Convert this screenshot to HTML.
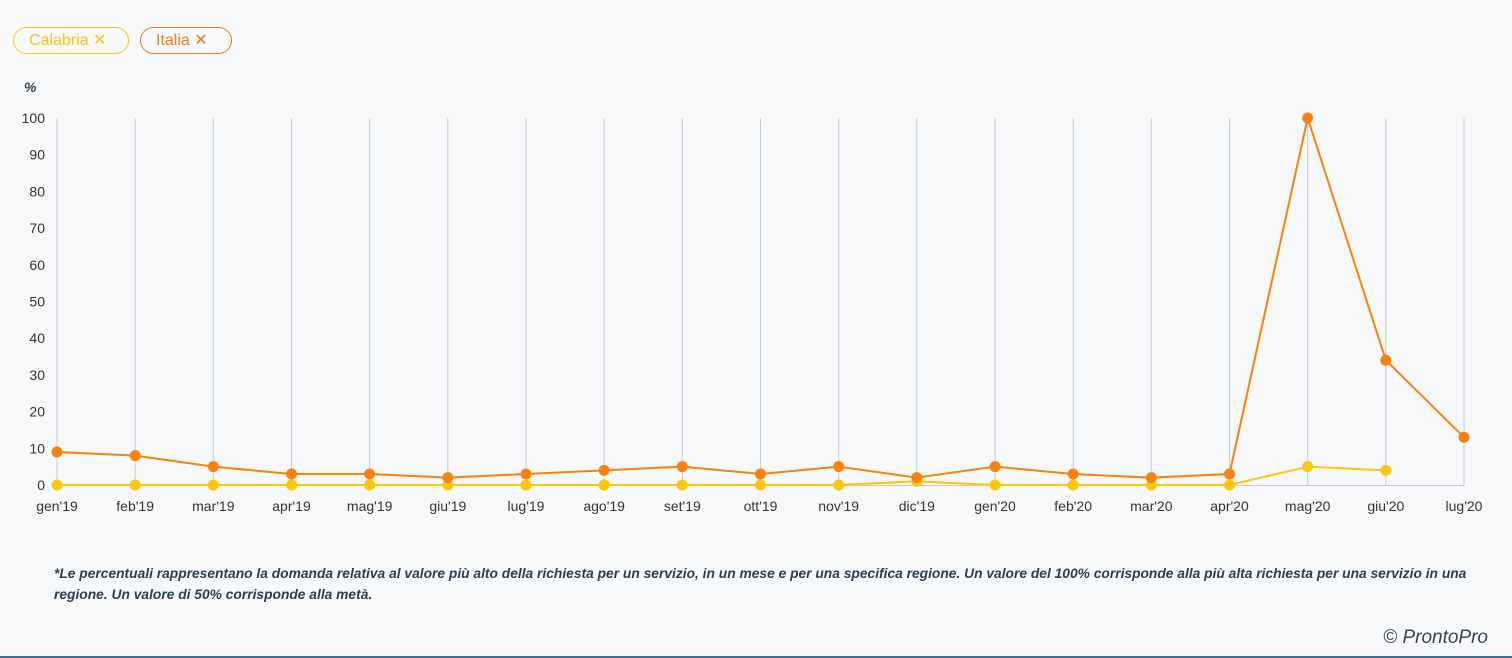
<!DOCTYPE html>
<html><head><meta charset="utf-8"><style>
body{margin:0;width:1512px;height:658px;background:#f7f8fa;font-family:"Liberation Sans",sans-serif;overflow:hidden;position:relative}
.tag{position:absolute;top:27px;height:27px;box-sizing:border-box;border-radius:14px;border:1px solid;font-size:16px;line-height:25px;padding:0 12px 0 15px}
.note{position:absolute;left:54px;top:563px;width:1420px;font-size:13.8px;font-style:italic;font-weight:bold;color:#2c3e50;line-height:21px}
.copy{position:absolute;right:24px;top:627px;font-size:19px;font-style:italic;color:#3a4656}
.bar{position:absolute;left:0;right:0;bottom:0;height:2px;background:#3b6e8f}
</style></head><body>
<div class="tag" style="left:13px;width:116px;color:#f5c518;border-color:#f5c518">Calabria ✕</div>
<div class="tag" style="left:140px;width:92px;color:#f07d16;border-color:#f07d16">Italia ✕</div>
<svg id="c" width="1512" height="540" style="position:absolute;left:0;top:0" font-family="Liberation Sans, sans-serif"></svg>
<div class="note">*Le percentuali rappresentano la domanda relativa al valore più alto della richiesta per un servizio, in un mese e per una specifica regione. Un valore del 100% corrisponde alla più alta richiesta per una servizio in una regione. Un valore di 50% corrisponde alla metà.</div>
<div class="copy">© ProntoPro</div>
<div class="bar"></div>
<script>
var s='',L=["gen'19","feb'19","mar'19","apr'19","mag'19","giu'19","lug'19","ago'19","set'19","ott'19","nov'19","dic'19","gen'20","feb'20","mar'20","apr'20","mag'20","giu'20","lug'20"];
function X(i){return 57+i*1407/18}function Y(v){return 485-3.67*v}
s+='<text x="24" y="92" font-size="14" font-weight="bold" font-style="italic" fill="#2c3e50">%</text>';
for(var v=0;v<=100;v+=10)s+='<text x="45" y="'+(Y(v)+5)+'" font-size="14" fill="#333" text-anchor="end">'+v+'</text>';
for(var i=0;i<19;i++){s+='<line x1="'+X(i)+'" x2="'+X(i)+'" y1="118" y2="485" stroke="#c5ccd6" stroke-width="1"/>';
s+='<text x="'+X(i)+'" y="511" font-size="14" fill="#333" text-anchor="middle">'+L[i]+'</text>';}
s+='<line x1="57" x2="1464" y1="485.5" y2="485.5" stroke="#c5ccd6"/>';
function ser(d,c){var p=d.map(function(v,i){return X(i)+','+Y(v)}).join(' ');s+='<polyline points="'+p+'" fill="none" stroke="'+c+'" stroke-width="2"/>';d.forEach(function(v,i){s+='<circle cx="'+X(i)+'" cy="'+Y(v)+'" r="5.5" fill="'+c+'"/>'});}
ser([0,0,0,0,0,0,0,0,0,0,0,1,0,0,0,0,5,4],'#fcc60a');
ser([9,8,5,3,3,2,3,4,5,3,5,2,5,3,2,3,100,34,13],'#f7820f');
document.getElementById('c').innerHTML=s;
</script>
</body></html>
